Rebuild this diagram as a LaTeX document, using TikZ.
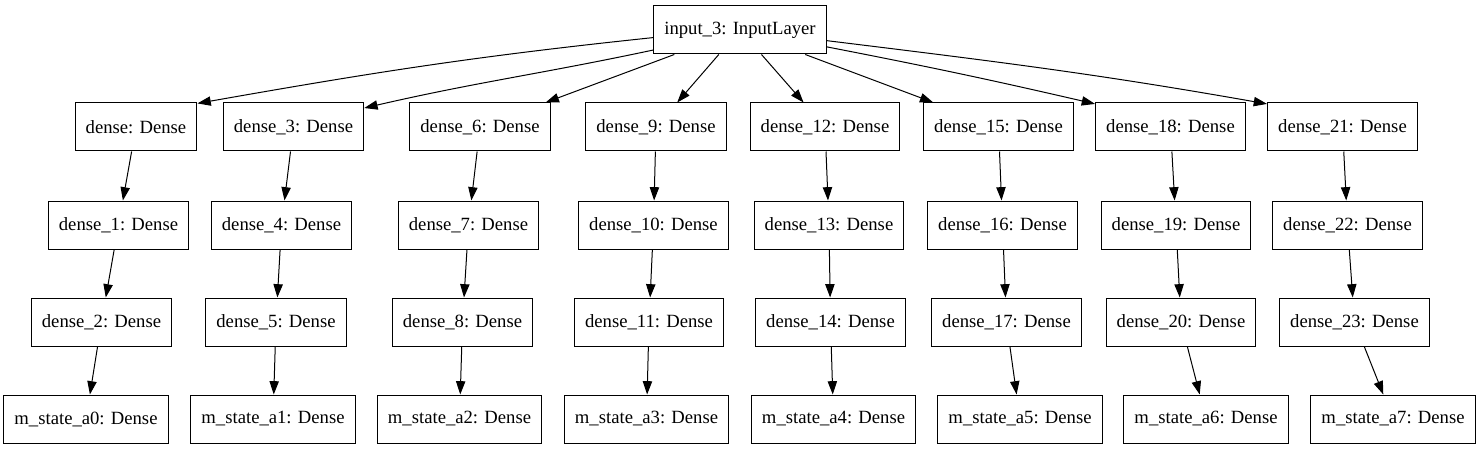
\documentclass[tikz,border=0pt]{standalone}
\usepackage{fontspec}
\setmainfont{Liberation Serif}
\usetikzlibrary{arrows.meta}

\begin{document}
\begin{tikzpicture}[x=0.75pt,y=-0.75pt,
    layer/.style={draw,line width=0.75pt,inner xsep=8pt,inner ysep=0pt,minimum height=36pt,font=\fontsize{14}{16}\selectfont},
    link/.style={-{Triangle[length=10pt,width=7pt]},line width=0.75pt}]
    \useasboundingbox (0,0) rectangle (1480,449);
    %input layer on top
    \node[layer,minimum width=126pt] (in3) at (740,30) {input\_3: InputLayer};
    %first row
    \node[layer] (d0) at (136,127) {dense: Dense};
    \node[layer] (d3) at (293.5,127) {dense\_3: Dense};
    \node[layer] (d6) at (480,127) {dense\_6: Dense};
    \node[layer] (d9) at (656,127) {dense\_9: Dense};
    \node[layer] (d12) at (825,127) {dense\_12: Dense};
    \node[layer] (d15) at (998.5,127) {dense\_15: Dense};
    \node[layer] (d18) at (1170.5,127) {dense\_18: Dense};
    \node[layer] (d21) at (1342.5,127) {dense\_21: Dense};
    %second row
    \node[layer] (d1) at (118.5,225) {dense\_1: Dense};
    \node[layer] (d4) at (281.5,225) {dense\_4: Dense};
    \node[layer] (d7) at (468.5,225) {dense\_7: Dense};
    \node[layer] (d10) at (653.5,225) {dense\_10: Dense};
    \node[layer] (d13) at (829,225) {dense\_13: Dense};
    \node[layer] (d16) at (1002.5,225) {dense\_16: Dense};
    \node[layer] (d19) at (1176,225) {dense\_19: Dense};
    \node[layer] (d22) at (1347.5,225) {dense\_22: Dense};
    %third row
    \node[layer] (d2) at (101.5,322) {dense\_2: Dense};
    \node[layer] (d5) at (276,322) {dense\_5: Dense};
    \node[layer] (d8) at (462.5,322) {dense\_8: Dense};
    \node[layer] (d11) at (649,322) {dense\_11: Dense};
    \node[layer] (d14) at (830.5,322) {dense\_14: Dense};
    \node[layer] (d17) at (1006.5,322) {dense\_17: Dense};
    \node[layer] (d20) at (1181,322) {dense\_20: Dense};
    \node[layer] (d23) at (1354.5,322) {dense\_23: Dense};
    %outputs
    \node[layer] (a0) at (86,419) {m\_state\_a0: Dense};
    \node[layer] (a1) at (273,419) {m\_state\_a1: Dense};
    \node[layer] (a2) at (459.5,419) {m\_state\_a2: Dense};
    \node[layer] (a3) at (646.5,419) {m\_state\_a3: Dense};
    \node[layer] (a4) at (833.5,419) {m\_state\_a4: Dense};
    \node[layer] (a5) at (1020,419) {m\_state\_a5: Dense};
    \node[layer] (a6) at (1206,419) {m\_state\_a6: Dense};
    \node[layer] (a7) at (1393,419) {m\_state\_a7: Dense};
    %fan out from the input
    \draw[link] (in3.185) to[out=186,in=10] (d0.21);
    \draw[link] (in3.193) to[out=192,in=13] (d3.15);
    \draw[link] (in3) -- (d6);
    \draw[link] (in3) -- (d9);
    \draw[link] (in3) -- (d12);
    \draw[link] (in3) -- (d15);
    \draw[link] (in3.349) to[out=349,in=167] (d18.163);
    \draw[link] (in3.353) to[out=353,in=170] (d21.163);
    %columns
    \draw[link] (d0) -- (d1); \draw[link] (d1) -- (d2); \draw[link] (d2) -- (a0);
    \draw[link] (d3) -- (d4); \draw[link] (d4) -- (d5); \draw[link] (d5) -- (a1);
    \draw[link] (d6) -- (d7); \draw[link] (d7) -- (d8); \draw[link] (d8) -- (a2);
    \draw[link] (d9) -- (d10); \draw[link] (d10) -- (d11); \draw[link] (d11) -- (a3);
    \draw[link] (d12) -- (d13); \draw[link] (d13) -- (d14); \draw[link] (d14) -- (a4);
    \draw[link] (d15) -- (d16); \draw[link] (d16) -- (d17); \draw[link] (d17) -- (a5);
    \draw[link] (d18) -- (d19); \draw[link] (d19) -- (d20); \draw[link] (d20) -- (a6);
    \draw[link] (d21) -- (d22); \draw[link] (d22) -- (d23); \draw[link] (d23) -- (a7);
\end{tikzpicture}
\end{document}
